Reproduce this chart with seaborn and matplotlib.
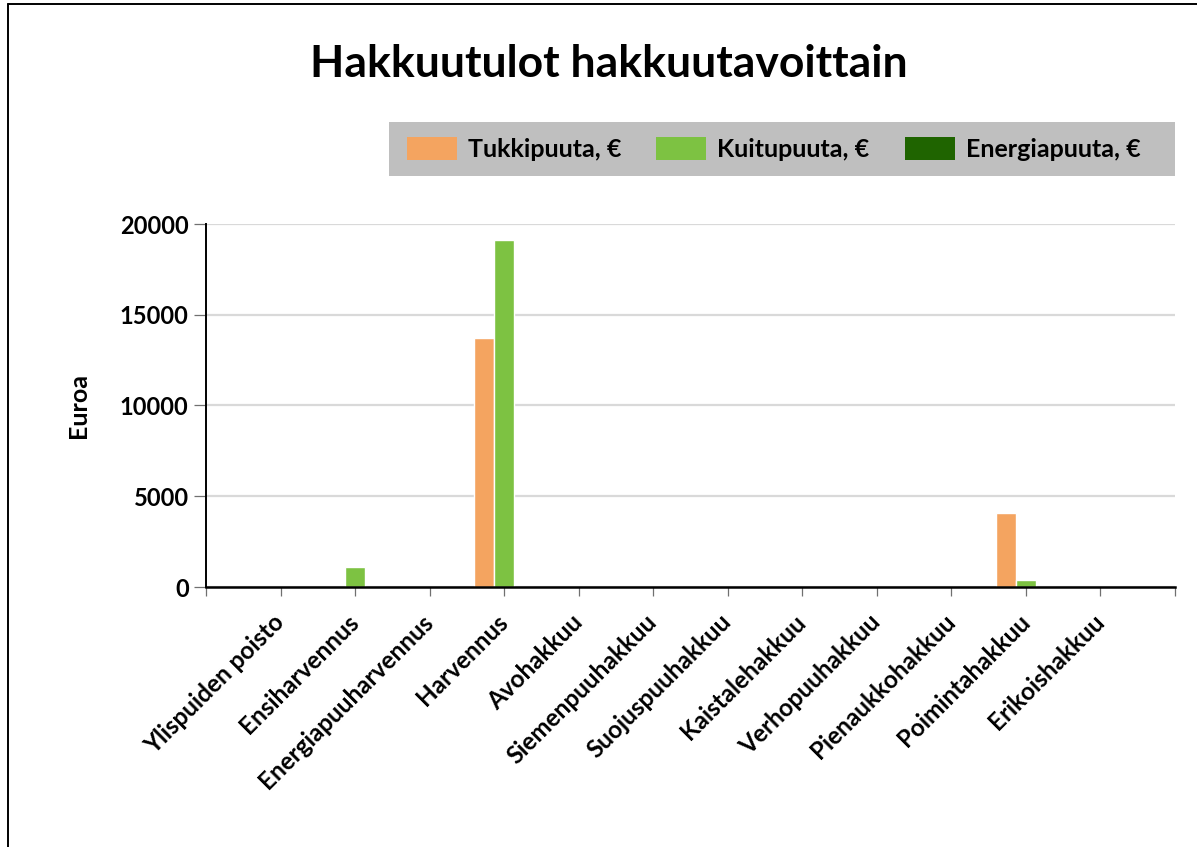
import numpy as np
import pandas as pd
import matplotlib
matplotlib.use('Agg')
import matplotlib.pyplot as plt
from matplotlib.patches import Patch, Rectangle
from matplotlib.lines import Line2D
import seaborn as sns

# Chart data
categories = ['Ylispuiden poisto', 'Ensiharvennus', 'Energiapuuharvennus', 'Harvennus',
              'Avohakkuu', 'Siemenpuuhakkuu', 'Suojuspuuhakkuu', 'Kaistalehakkuu',
              'Verhopuuhakkuu', 'Pienaukkohakkuu', 'Poimintahakkuu', 'Erikoishakkuu']
tukkipuu = [0, 0, 0, 13700, 0, 0, 0, 0, 0, 0, 4100, 0]
kuitupuu = [0, 1100, 0, 19100, 0, 0, 0, 0, 0, 0, 400, 0]
energiapuu = [0, 0, 0, 0, 0, 0, 0, 0, 0, 0, 0, 0]
series_names = ['Tukkipuuta, €', 'Kuitupuuta, €', 'Energiapuuta, €']
colors = ['#F4A460', '#7DC242', '#1F6400']
y_ticks = [0, 5000, 10000, 15000, 20000]

df = pd.DataFrame({
    'hakkuutapa': categories * 3,
    'euroa': tukkipuu + kuitupuu + energiapuu,
    'laji': [series_names[0]] * 12 + [series_names[1]] * 12 + [series_names[2]] * 12,
})

sns.set_style('white')
plt.rcParams['font.family'] = ['Lato', 'DejaVu Sans']
plt.rcParams['font.weight'] = 'bold'
plt.rcParams['text.color'] = 'black'
plt.rcParams['xtick.color'] = 'black'
plt.rcParams['ytick.color'] = 'black'

fig = plt.figure(figsize=(11.97, 8.47), dpi=100)
W, H = 1197, 847
ax = fig.add_axes([206 / W, 1 - 587 / H, (1175 - 206) / W, (587 - 224) / H])

sns.barplot(data=df, x='hakkuutapa', y='euroa', hue='laji', hue_order=series_names,
            palette=colors, width=0.8, dodge=True, saturation=1, ax=ax,
            legend=False, zorder=3)

ax.set_xlim(-1, 12)
ax.set_ylim(0, 20000)
ax.set_yticks(y_ticks)
ax.set_yticklabels([str(v) for v in y_ticks], fontsize=17, fontweight='bold')
ax.set_xticks(range(-1, 13))
ax.set_xticklabels([''] + categories + [''], fontsize=17.5, fontweight='bold',
                   rotation=45, ha='right', va='center', rotation_mode='anchor')
ax.set_xlabel('')
ax.set_ylabel('')

ax.yaxis.grid(True, color='#d9d9d9', linewidth=1.6, zorder=0)
ax.set_axisbelow(True)
for side in ['top', 'right']:
    ax.spines[side].set_visible(False)
ax.spines['bottom'].set_color('black')
ax.spines['bottom'].set_linewidth(1.8)
ax.spines['bottom'].set_zorder(5)
ax.spines['left'].set_color('black')
ax.spines['left'].set_linewidth(1.4)
ax.tick_params(axis='x', direction='out', length=6.5, width=0.9, color='#707070', pad=16, bottom=True)
ax.tick_params(axis='y', direction='out', length=8.5, width=0.9, color='#707070', pad=4, left=True)

# title and axis label
fig.text(609 / W, 1 - 77 / H, 'Hakkuutulot hakkuutavoittain', ha='center', va='baseline',
         fontsize=32, fontweight='bold')
fig.text(78 / W, 1 - 406 / H, 'Euroa', rotation=90, ha='center', va='center',
         fontsize=18, fontweight='bold')

# legend box
fig.add_artist(Rectangle((389 / W, 1 - 176 / H), (1175 - 389) / W, 54 / H,
                         transform=fig.transFigure, facecolor='#bfbfbf', edgecolor='none'))
handles = [Patch(facecolor=c, edgecolor='none', label=n) for c, n in zip(colors, series_names)]
fig.legend(handles=handles, loc='center left', bbox_to_anchor=(407 / W, 1 - 149 / H),
           ncol=3, frameon=False, borderpad=0, borderaxespad=0,
           handlelength=2.0, handleheight=1.0, handletextpad=0.44, columnspacing=1.4,
           prop={'weight': 'bold', 'size': 18})

# outer frame (left and top edges)
fig.add_artist(Line2D([7.5 / W, 7.5 / W], [0, 1 - 4 / H], transform=fig.transFigure,
                      color='black', linewidth=1.4))
fig.add_artist(Line2D([7.5 / W, 1], [1 - 4 / H, 1 - 4 / H], transform=fig.transFigure,
                      color='black', linewidth=1.4))

fig.savefig('out.png', dpi=100)
